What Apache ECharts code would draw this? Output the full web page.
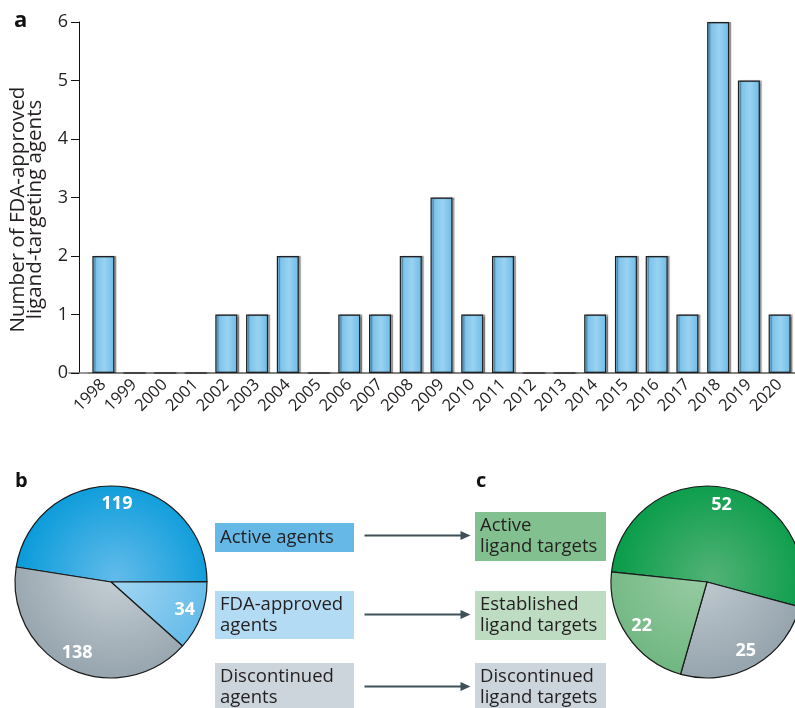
<!DOCTYPE html>
<html>
<head>
<meta charset="utf-8">
<script src="https://cdn.jsdelivr.net/npm/echarts@6/dist/echarts.min.js"></script>
<style>
  html, body { margin: 0; padding: 0; background: #fff; }
  #main { width: 795px; height: 708px; }
</style>
</head>
<body>
<div id="main"></div>
<script>
// panel a
const years = ['1998', '1999', '2000', '2001', '2002', '2003', '2004', '2005', '2006', '2007', '2008',
  '2009', '2010', '2011', '2012', '2013', '2014', '2015', '2016', '2017', '2018', '2019', '2020']
const approvedCounts = [2, 0, 0, 0, 1, 1, 2, 0, 1, 1, 2, 3, 1, 2, 0, 0, 1, 2, 2, 1, 6, 5, 1]
const yTicks = [0, 1, 2, 3, 4, 5, 6]

// panel b
const agentNames = ['Active agents', 'FDA-approved agents', 'Discontinued agents']
const agentLabels = [119, 34, 138]
// slice sizes as drawn in the figure (the blue and grey wedges are drawn ~171deg / ~147deg)
const agentShares = [138, 34, 119]

// panel c
const targetNames = ['Active ligand targets', 'Discontinued ligand targets', 'Established ligand targets']
const targetCounts = [52, 25, 22]

const FONT = 'Open Sans'

const radial = (cx, cy, r, inner, outer) => ({
  type: 'radial', x: cx, y: cy, r: r, global: true,
  colorStops: [{ offset: 0, color: inner }, { offset: 1, color: outer }]
})

const pieB = { cx: 111, cy: 582, r: 96 }
const pieC = { cx: 707, cy: 582, r: 96 }

const agentColors = [
  radial(pieB.cx + 5, pieB.cy - 5, 110, '#62bbea', '#0098d8'),
  radial(pieB.cx + 5, pieB.cy - 5, 110, '#a4d6f3', '#5cb8e8'),
  radial(pieB.cx + 5, pieB.cy - 15, 110, '#c9d2d8', '#97a5ae')
]
const targetColors = [
  radial(pieC.cx + 5, pieC.cy - 5, 110, '#52b276', '#009a45'),
  radial(pieC.cx - 10, pieC.cy - 15, 110, '#c4ced5', '#97a5ae'),
  radial(pieC.cx - 10, pieC.cy - 10, 110, '#98cca3', '#6db57f')
]

function pieSeries (names, values, labels, colors, p, startAngle) {
  const data = values.map((v, i) => ({ name: names[i], value: v, itemStyle: { color: colors[i] } }))
  return [
    {
      type: 'pie', center: [p.cx, p.cy], radius: p.r, startAngle: startAngle,
      clockwise: true, silent: true, animation: false,
      itemStyle: { borderColor: '#1a1a1a', borderWidth: 1.2 },
      label: { show: false }, labelLine: { show: false },
      data: data
    },
    {
      // transparent ring that only carries the value labels near the rim
      type: 'pie', center: [p.cx, p.cy], radius: [p.r * 0.58, p.r], startAngle: startAngle,
      clockwise: true, silent: true, animation: false,
      itemStyle: { color: 'rgba(0,0,0,0)', borderWidth: 0 },
      label: {
        show: true, position: 'inside',
        formatter: (prm) => String(labels[prm.dataIndex]),
        color: '#fff', fontFamily: FONT, fontWeight: 'bold', fontSize: 18
      },
      labelLine: { show: false },
      data: values.map((v, i) => ({ name: names[i], value: v }))
    }
  ]
}

const box = (x, y, w, h, fill, text) => ({
  type: 'group', left: x, top: y,
  children: [
    { type: 'rect', shape: { x: 0, y: 0, width: w, height: h }, style: { fill: fill } },
    { type: 'text', x: 5, y: h / 2, style: {
      text: text, fill: '#231f20', font: '18.5px "' + FONT + '"',
      verticalAlign: 'middle', lineHeight: 21 } }
  ]
})

const arrow = (x1, x2, y) => ({
  type: 'group', left: x1, top: y - 5,
  children: [
    { type: 'line', shape: { x1: 0, y1: 5, x2: x2 - x1 - 8, y2: 5 }, style: { stroke: '#3f505b', lineWidth: 2 } },
    { type: 'polygon', shape: { points: [[x2 - x1 - 10, 0.5], [x2 - x1, 5], [x2 - x1 - 10, 9.5]] }, style: { fill: '#3f505b' } }
  ]
})

const chart = echarts.init(document.getElementById('main'))
chart.setOption({
  animation: false,
  backgroundColor: '#fff',
  textStyle: { fontFamily: FONT },
  title: [
    { text: 'a', left: 9, top: 5, textStyle: { fontSize: 22, fontWeight: 'bold', color: '#111' } },
    { text: 'b', left: 10, top: 466, textStyle: { fontSize: 20, fontWeight: 'bold', color: '#111' } },
    { text: 'c', left: 471, top: 466, textStyle: { fontSize: 20, fontWeight: 'bold', color: '#111' } }
  ],
  grid: [
    { left: 86, top: 22, width: 712, height: 351, containLabel: false },
    // baseline that runs on to the y-axis tick, as in the figure
    { left: 69, top: 22, width: 729, height: 351, containLabel: false }
  ],
  xAxis: [
    {
      type: 'category', data: years, boundaryGap: true, gridIndex: 0,
      axisLine: { lineStyle: { color: '#7a7a7a', width: 1.5 } },
      axisTick: { alignWithLabel: true, length: 8, lineStyle: { color: '#111' } },
      axisLabel: { rotate: 45, interval: 0, fontSize: 16.5, color: '#231f20', margin: 9 }
    },
    {
      type: 'value', gridIndex: 1, min: 0, max: 1,
      axisLine: { show: true, lineStyle: { color: '#7a7a7a', width: 1.5 } },
      axisTick: { show: false }, axisLabel: { show: false }, splitLine: { show: false }
    }
  ],
  yAxis: [
    {
      type: 'value', gridIndex: 0, min: yTicks[0], max: yTicks[yTicks.length - 1], interval: 1, offset: 9,
      name: 'Number of FDA-approved\nligand-targeting agents',
      nameLocation: 'middle', nameGap: 35,
      nameTextStyle: { fontSize: 20.5, lineHeight: 17, color: '#231f20', padding: [0, 24, 0, 0] },
      axisLine: { show: true, lineStyle: { color: '#111' } },
      axisTick: { show: true, length: 8, lineStyle: { color: '#111' } },
      axisLabel: { fontSize: 18, color: '#231f20', margin: 11 },
      splitLine: { show: false }
    },
    {
      type: 'value', gridIndex: 1, min: 0, max: 1, show: false
    }
  ],
  series: [
    {
      type: 'bar', data: approvedCounts, barWidth: 22, xAxisIndex: 0, yAxisIndex: 0,
      itemStyle: {
        color: {
          type: 'linear', x: 0, y: 0, x2: 1, y2: 0,
          colorStops: [
            { offset: 0, color: '#6fbde9' },
            { offset: 0.55, color: '#9ad2f1' },
            { offset: 1, color: '#6cbbe8' }
          ]
        },
        borderColor: '#1f1f1f', borderWidth: 1.2,
        shadowColor: 'rgba(0,0,0,0.35)', shadowOffsetX: 2, shadowBlur: 1
      }
    },
    ...pieSeries(agentNames, agentShares, agentLabels, agentColors, pieB, 171),
    ...pieSeries(targetNames, targetCounts, targetCounts, targetColors, pieC, 174)
  ],
  graphic: [
    box(215, 523, 139, 29, '#66b9e7', 'Active agents'),
    box(215, 591, 139, 48, '#b4dbf4', 'FDA-approved\nagents'),
    box(215, 663, 139, 48, '#ccd5dc', 'Discontinued\nagents'),
    box(475, 512, 131, 49, '#83c090', 'Active\nligand targets'),
    box(475, 591, 131, 49, '#bddcc2', 'Established\nligand targets'),
    box(475, 663, 131, 48, '#ccd5dc', 'Discontinued\nligand targets'),
    arrow(362, 468, 536),
    arrow(362, 468, 615),
    arrow(362, 468, 687)
  ]
})
</script>
</body>
</html>
